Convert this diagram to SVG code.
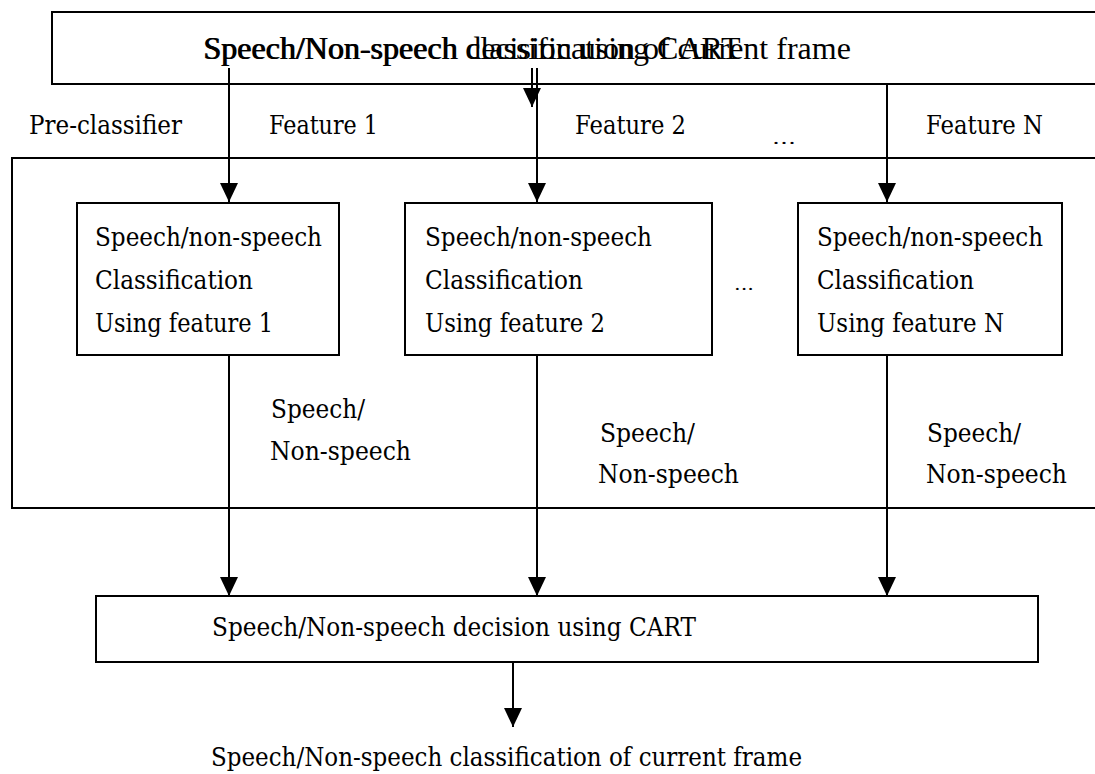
<svg xmlns="http://www.w3.org/2000/svg" width="1095" height="774" viewBox="0 0 1095 774">
  <style>
    .box { fill: none; stroke: #000; stroke-width: 2; }
    .wire { fill: none; stroke: #000; stroke-width: 2; }
    .title { font-family: "Liberation Serif", "Times New Roman", serif; font-size: 32px; fill: #000; }
    .lbl { font-family: "DejaVu Serif", "Liberation Serif", serif; font-size: 26px; fill: #000; }
  </style>
  <defs>
    <marker id="arrow" markerUnits="userSpaceOnUse" markerWidth="19" markerHeight="18" refX="19" refY="9" orient="auto" viewBox="0 0 19 18">
      <path d="M0,0 L19,9 L0,18 Z" fill="#000"/>
    </marker>
  </defs>
  <rect width="1095" height="774" fill="#fff"/>

  <!-- top frame box with two overlapping captions -->
  <g id="top-box">
    <rect class="box" x="52" y="12" width="1100" height="72"/>
    <text class="title" x="203" y="59">Speech/Non-speech decision using CART</text>
    <text class="title" x="204" y="59">Speech/Non-speech classification of current frame</text>
  </g>

  <!-- feature labels -->
  <g id="feature-labels" class="lbl">
    <text x="29" y="134" textLength="153" lengthAdjust="spacingAndGlyphs">Pre-classifier</text>
    <text x="269" y="134" textLength="109" lengthAdjust="spacingAndGlyphs">Feature 1</text>
    <text x="575" y="134" textLength="111" lengthAdjust="spacingAndGlyphs">Feature 2</text>
    <text x="772" y="144" textLength="24" lengthAdjust="spacingAndGlyphs" font-size="16">...</text>
    <text x="926" y="134" textLength="117" lengthAdjust="spacingAndGlyphs">Feature N</text>
  </g>

  <!-- pre-classifier container -->
  <g id="pre-classifier">
    <rect class="box" x="12" y="158" width="1100" height="350"/>
  </g>

  <g id="classifier-1" class="lbl">
    <rect class="box" x="77" y="203" width="262" height="152"/>
    <text x="95" y="246" textLength="227" lengthAdjust="spacingAndGlyphs">Speech/non-speech</text>
    <text x="95" y="289" textLength="158" lengthAdjust="spacingAndGlyphs">Classification</text>
    <text x="95" y="332" textLength="178" lengthAdjust="spacingAndGlyphs">Using feature 1</text>
  </g>

  <g id="classifier-2" class="lbl">
    <rect class="box" x="405" y="203" width="307" height="152"/>
    <text x="425" y="246" textLength="227" lengthAdjust="spacingAndGlyphs">Speech/non-speech</text>
    <text x="425" y="289" textLength="158" lengthAdjust="spacingAndGlyphs">Classification</text>
    <text x="425" y="332" textLength="180" lengthAdjust="spacingAndGlyphs">Using feature 2</text>
  </g>

  <g id="ellipsis" class="lbl">
    <text x="734" y="290" textLength="20" lengthAdjust="spacingAndGlyphs" font-size="16">...</text>
  </g>

  <g id="classifier-n" class="lbl">
    <rect class="box" x="798" y="203" width="264" height="152"/>
    <text x="817" y="246" textLength="226" lengthAdjust="spacingAndGlyphs">Speech/non-speech</text>
    <text x="817" y="289" textLength="157" lengthAdjust="spacingAndGlyphs">Classification</text>
    <text x="817" y="332" textLength="187" lengthAdjust="spacingAndGlyphs">Using feature N</text>
  </g>

  <!-- per-feature decision labels -->
  <g id="decision-labels" class="lbl">
    <text x="271" y="418" textLength="94" lengthAdjust="spacingAndGlyphs">Speech/</text>
    <text x="270" y="460" textLength="141" lengthAdjust="spacingAndGlyphs">Non-speech</text>
    <text x="600" y="442" textLength="95" lengthAdjust="spacingAndGlyphs">Speech/</text>
    <text x="598" y="483" textLength="141" lengthAdjust="spacingAndGlyphs">Non-speech</text>
    <text x="927" y="442" textLength="94" lengthAdjust="spacingAndGlyphs">Speech/</text>
    <text x="926" y="483" textLength="141" lengthAdjust="spacingAndGlyphs">Non-speech</text>
  </g>

  <g id="cart-box" class="lbl">
    <rect class="box" x="96" y="596" width="942" height="66"/>
    <text x="212" y="636" textLength="484" lengthAdjust="spacingAndGlyphs">Speech/Non-speech decision using CART</text>
  </g>

  <g id="output-label" class="lbl">
    <text x="211" y="766" textLength="591" lengthAdjust="spacingAndGlyphs">Speech/Non-speech classification of current frame</text>
  </g>

  <!-- connectors -->
  <g id="connectors" class="wire">
    <line x1="229" y1="68" x2="229" y2="202" marker-end="url(#arrow)"/>
    <line x1="532" y1="68" x2="532" y2="107" marker-end="url(#arrow)"/>
    <line x1="537" y1="68" x2="537" y2="202" marker-end="url(#arrow)"/>
    <line x1="887" y1="84" x2="887" y2="202" marker-end="url(#arrow)"/>
    <line x1="229" y1="355" x2="229" y2="596" marker-end="url(#arrow)"/>
    <line x1="537" y1="355" x2="537" y2="596" marker-end="url(#arrow)"/>
    <line x1="887" y1="355" x2="887" y2="596" marker-end="url(#arrow)"/>
    <line x1="513" y1="662" x2="513" y2="727" marker-end="url(#arrow)"/>
  </g>
</svg>
